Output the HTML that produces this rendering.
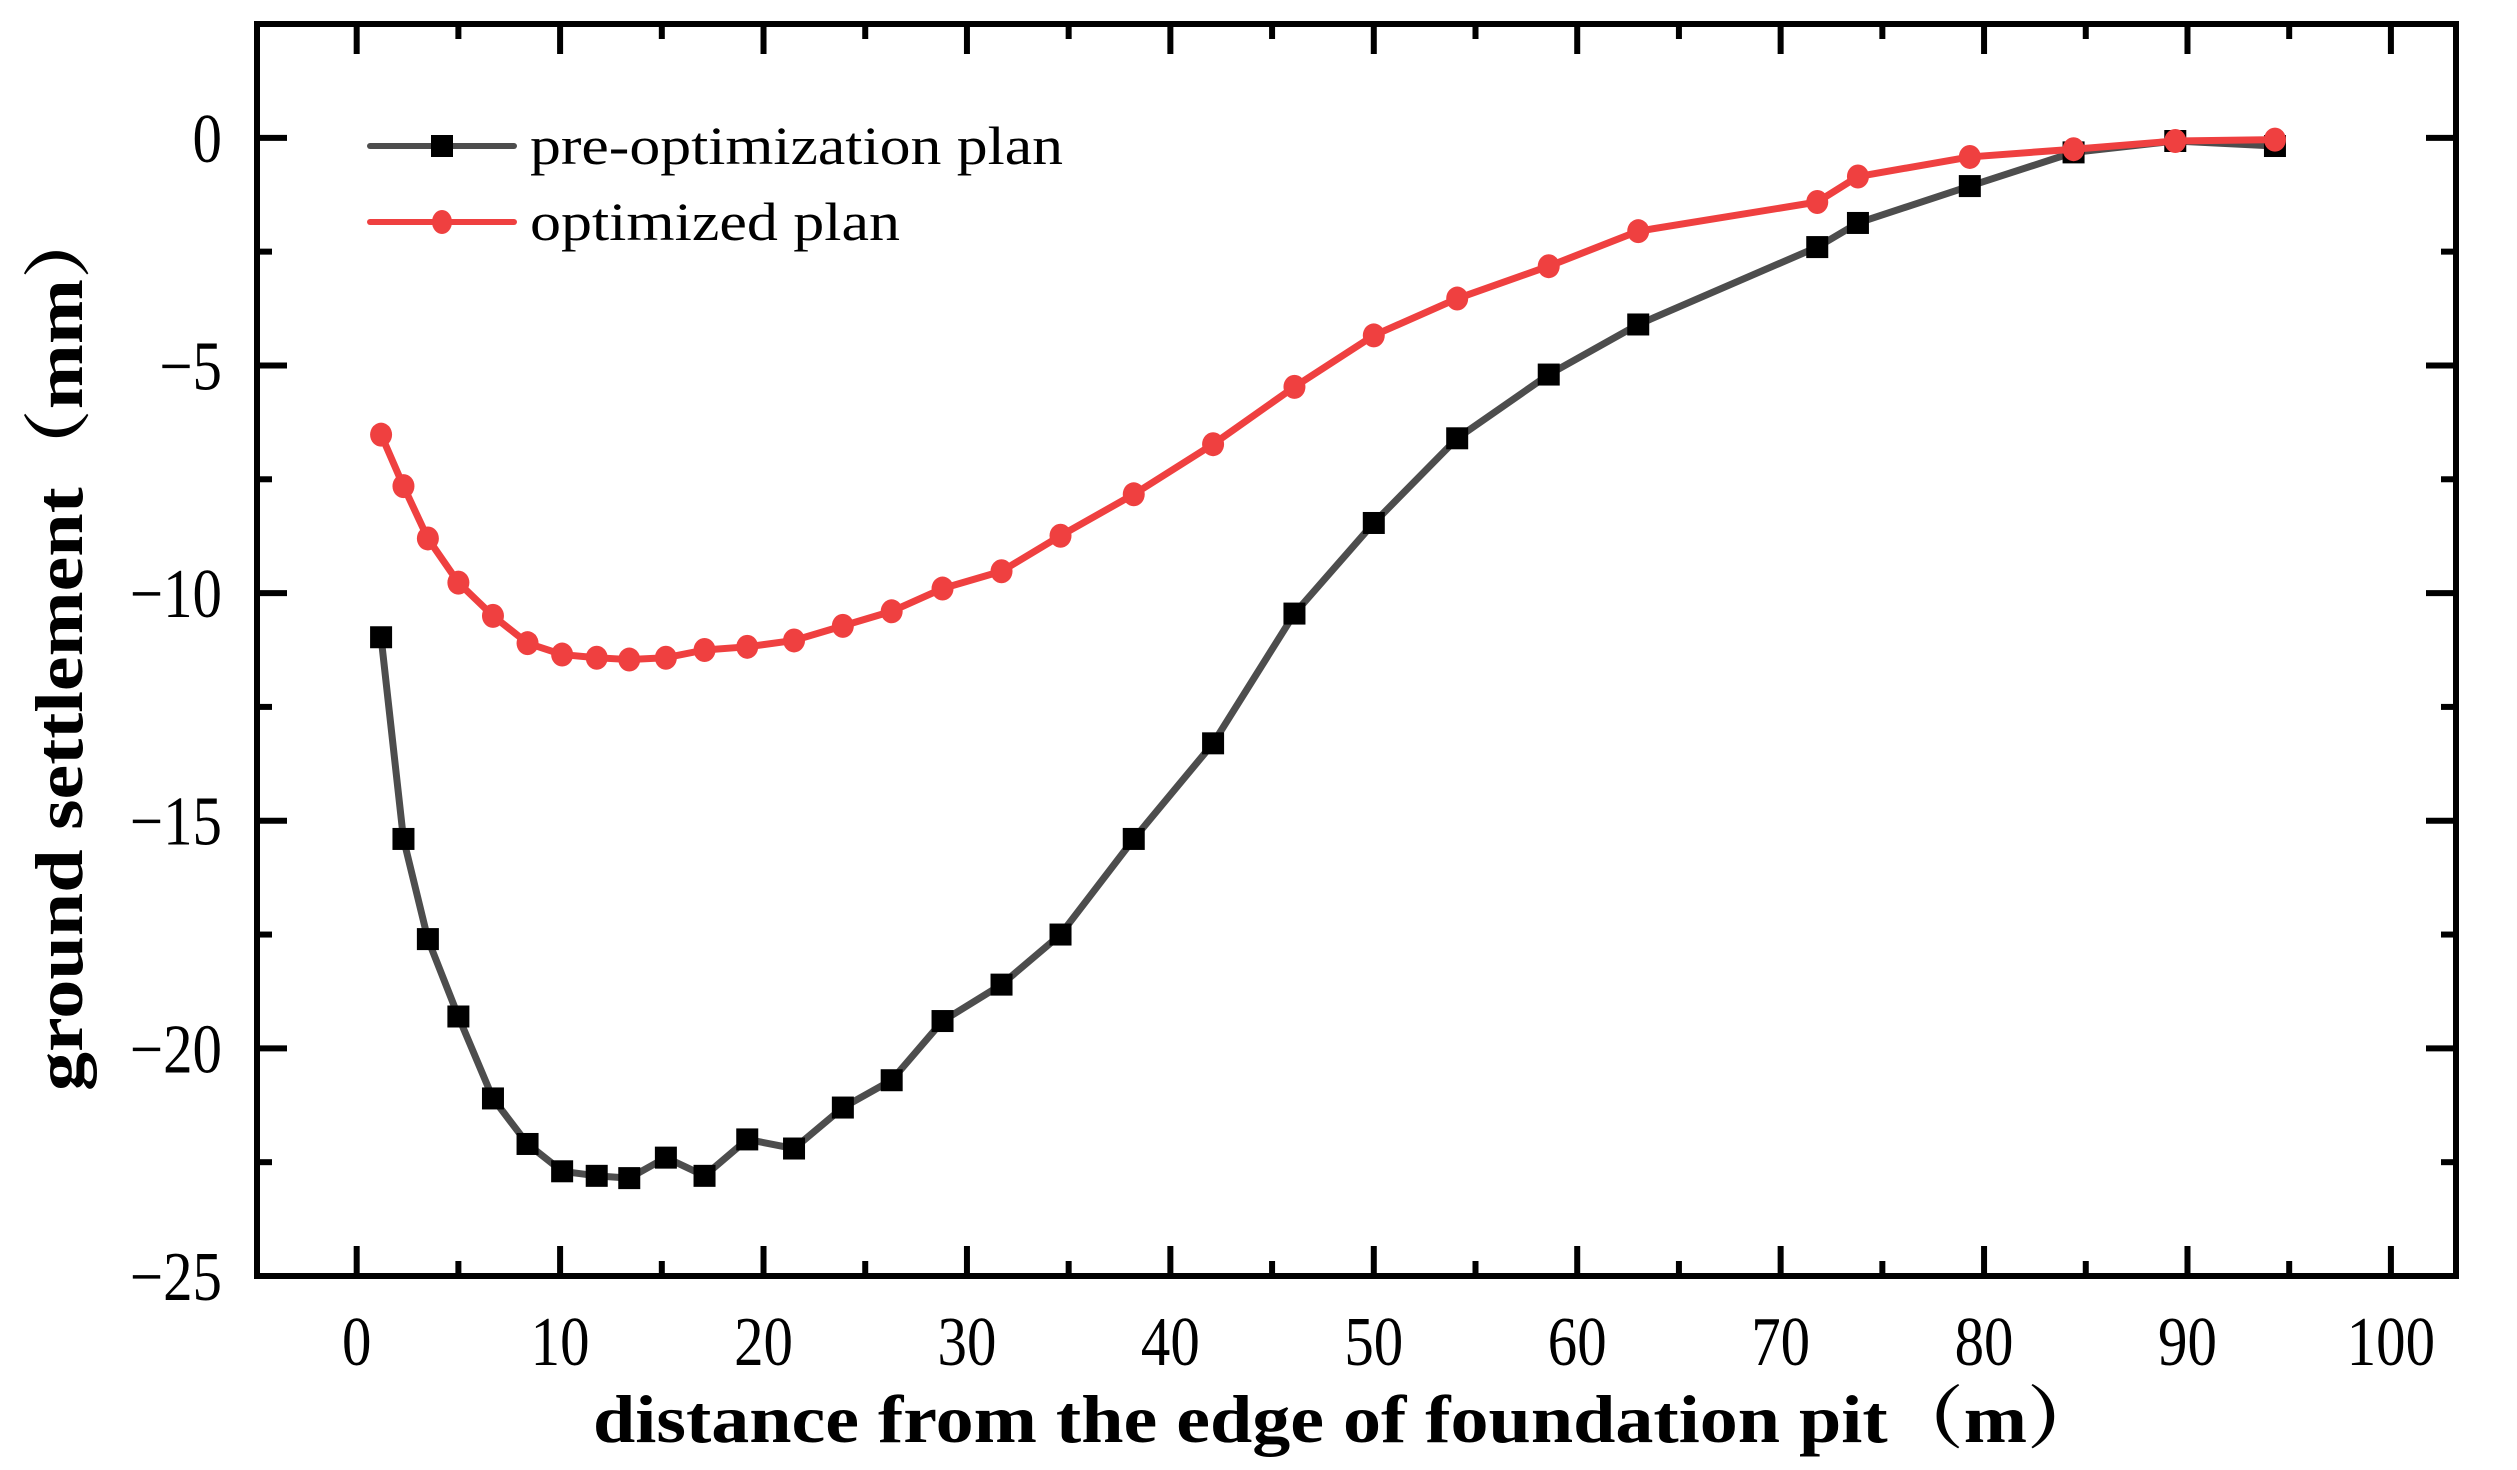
<!DOCTYPE html>
<html><head><meta charset="utf-8"><style>
html,body{margin:0;padding:0;background:#fff;}
svg{display:block;font-family:"Liberation Serif","Noto Serif CJK SC",serif;}
</style></head><body>
<svg id="chart" width="2517" height="1470" viewBox="0 0 2517 1470" xmlns="http://www.w3.org/2000/svg">
<g id="marks"></g>
<g id="axes"></g>
<text x="1348" y="1442" font-size="68" font-weight="bold" text-anchor="middle" textLength="1510" lengthAdjust="spacingAndGlyphs">distance from the edge of foundation pit（m）</text>
<text transform="translate(82,646) rotate(-90)" font-size="68" font-weight="bold" text-anchor="middle" textLength="890" lengthAdjust="spacingAndGlyphs">ground settlement（mm）</text>
<g>
<g>
<line x1="370" y1="146" x2="514" y2="146" stroke="#4d4d4d" stroke-width="6" stroke-linecap="round"/>
<rect x="431" y="135" width="22" height="22" fill="#000"/>
<text x="530" y="164" font-size="54" textLength="533" lengthAdjust="spacingAndGlyphs">pre-optimization plan</text>
</g>
<g>
<line x1="370" y1="222" x2="514" y2="222" stroke="#ef4040" stroke-width="6" stroke-linecap="round"/>
<ellipse cx="442" cy="222" rx="10" ry="12" fill="#ef4040"/>
<text x="530" y="240" font-size="54" textLength="370" lengthAdjust="spacingAndGlyphs">optimized plan</text>
</g>
</g>
</svg>
<script>
const xs = [1.2,2.3,3.5,5.0,6.7,8.4,10.1,11.8,13.4,15.2,17.1,19.2,21.5,23.9,26.3,28.8,31.7,34.6,38.2,42.1,46.1,50.0,54.1,58.6,63.0,71.8,73.8,79.3,84.4,89.4,94.3];
const preValues = [-10.97,-15.4,-17.6,-19.3,-21.1,-22.1,-22.7,-22.8,-22.85,-22.4,-22.8,-22.0,-22.2,-21.3,-20.7,-19.4,-18.6,-17.5,-15.4,-13.3,-10.45,-8.46,-6.6,-5.2,-4.1,-2.4,-1.87,-1.06,-0.32,-0.07,-0.18];
const optValues = [-6.52,-7.65,-8.8,-9.77,-10.5,-11.1,-11.35,-11.42,-11.46,-11.42,-11.25,-11.18,-11.04,-10.72,-10.4,-9.9,-9.52,-8.74,-7.83,-6.73,-5.47,-4.34,-3.53,-2.82,-2.05,-1.41,-0.85,-0.42,-0.25,-0.07,-0.04];
const xTicks = [0,10,20,30,40,50,60,70,80,90,100];
const yTicks = [0,-5,-10,-15,-20,-25];

const L=257,R=2456,T=24,B=1276;
const X0=-4.9,X1=103.2,Y0=-25,Y1=2.5;
const sx=v=>L+(v-X0)/(X1-X0)*(R-L);
const sy=v=>B-(v-Y0)/(Y1-Y0)*(B-T);
const NS='http://www.w3.org/2000/svg';
function mk(tag,attrs,parent){const e=document.createElementNS(NS,tag);for(const k in attrs)e.setAttribute(k,attrs[k]);parent.appendChild(e);return e;}
const axes=document.getElementById('axes'), marks=document.getElementById('marks');

const frame=mk('rect',{x:L,y:T,width:R-L,height:B-T,fill:'none',stroke:'#000','stroke-width':6},axes);



for(let v=0;v<=100;v+=5){
  const major=v%10===0, len=major?30:15, x=sx(v);
  const t1=mk('line',{x1:x,y1:B,x2:x,y2:B-len,stroke:'#000','stroke-width':6},axes);
  
  
  const t2=mk('line',{x1:x,y1:T,x2:x,y2:T+len,stroke:'#000','stroke-width':6},axes);
  
  
}
xTicks.forEach(v=>{
  const t=mk('text',{x:0,y:0,'font-size':62,'text-anchor':'middle',transform:'translate('+sx(v)+',1365) scale(0.95,1.12)'},axes);
  t.textContent=String(v);
  
  
});
for(let v=-25;v<=2.5;v+=2.5){
  const major=Math.abs(v%5)<1e-9, len=major?30:15, y=sy(v);
  const t1=mk('line',{x1:L,y1:y,x2:L+len,y2:y,stroke:'#000','stroke-width':6},axes);
  
  
  const t2=mk('line',{x1:R,y1:y,x2:R-len,y2:y,stroke:'#000','stroke-width':6},axes);
  
  
}
yTicks.forEach(v=>{
  const t=mk('text',{x:0,y:0,'font-size':62,'text-anchor':'end',transform:'translate(222,'+(sy(v)+24)+') scale(0.95,1.12)'},axes);
  t.textContent=v===0?'0':'\u2212'+Math.abs(v);
  
  
});

function series(vals,color,marker,name){
  const g=mk('g',{},marks);
  
  
  const pts=xs.map((x,i)=>sx(x)+','+sy(vals[i])).join(' ');
  const pl=mk('polyline',{points:pts,fill:'none',stroke:color,'stroke-width':7,'stroke-linejoin':'round'},g);
  
  
  xs.forEach((x,i)=>{
    let m;
    if(marker==='square') m=mk('rect',{x:sx(x)-11,y:sy(vals[i])-11,width:22,height:22,fill:'#000'},g);
    else m=mk('ellipse',{cx:sx(x),cy:sy(vals[i]),rx:11,ry:12,fill:color},g);
    
    
  });
}
series(preValues,'#4d4d4d','square','pre-optimization-series');
series(optValues,'#ef4040','circle','optimized-series');
</script>
</body></html>
